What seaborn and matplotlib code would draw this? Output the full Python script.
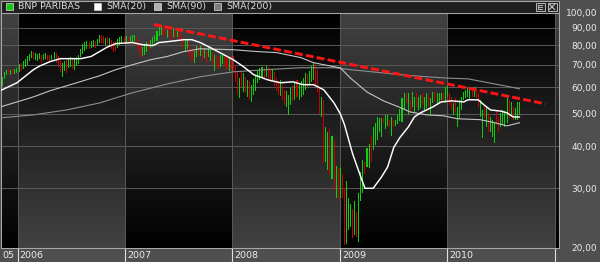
import numpy as np
import pandas as pd
import matplotlib
matplotlib.use('Agg')
import matplotlib.pyplot as plt
import matplotlib.dates as mdates
import matplotlib.transforms as mtransforms
from matplotlib.colors import LinearSegmentedColormap
from matplotlib.patches import Rectangle
from matplotlib.lines import Line2D
from matplotlib.ticker import FixedLocator, NullLocator
import seaborn as sns

plt.rcParams['font.family'] = ['DejaVu Sans']

# ---------------- DATA ----------------
first_week = '2005-11-11'          # weekly bars (Fridays)
view_start = '2005-11-04'
view_end = '2011-01-14'

highs = [
    64.5, 66.5, 67.5, 67.8, 67.5, 68.0, 67.8, 68.5, 70.5, 71.0,
    71.5, 72.5, 74.0, 75.5, 77.0, 76.5, 76.0, 75.5, 76.0, 75.0,
    75.5, 76.0, 75.0, 74.5, 75.0, 76.5, 76.0, 74.0, 72.0, 71.0,
    71.5, 72.0, 73.0, 73.5, 73.0, 72.5, 73.5, 75.0, 78.0, 80.5,
    81.5, 82.0, 81.5, 82.5, 83.0, 82.5, 83.5, 86.0, 85.5, 85.0,
    84.0, 84.5, 84.0, 83.0, 81.5, 82.0, 83.5, 84.5, 85.0, 84.5,
    85.0, 84.5, 85.0, 85.5, 86.0, 84.5, 82.0, 80.0, 79.0, 80.5,
    81.5, 82.0, 83.0, 84.5, 86.0, 88.0, 90.5, 92.0, 91.5, 90.5,
    89.0, 90.0, 88.5, 89.5, 88.5, 89.0, 88.0, 87.0, 84.0, 82.5,
    83.0, 81.5, 78.0, 77.0, 79.5, 80.0, 79.5, 78.0, 78.5, 77.0,
    79.0, 77.5, 76.0, 75.0, 74.0, 73.5, 74.5, 76.0, 75.5, 74.0,
    73.0, 74.0, 74.0, 70.0, 66.5, 64.0, 67.0, 66.0, 64.5, 63.0,
    62.5, 61.0, 63.5, 65.0, 67.0, 68.5, 69.0, 68.5, 69.5, 69.0,
    67.5, 68.0, 66.5, 64.0, 62.5, 63.0, 61.0, 59.0, 58.5, 57.0,
    59.5, 60.5, 62.0, 63.0, 61.5, 62.5, 64.0, 66.0, 65.5, 67.0,
    69.5, 71.4, 70.5, 68.0, 60.0, 56.0, 55.0, 45.5, 44.0, 45.0,
    43.0, 41.8, 35.0, 34.5, 34.5, 33.0, 30.0, 31.5, 28.0, 27.0,
    26.0, 27.5, 25.5, 29.0, 33.5, 36.5, 36.0, 39.5, 40.5, 43.0,
    45.5, 47.0, 49.0, 48.5, 48.5, 48.5, 49.5, 49.5, 48.0, 48.8,
    47.8, 48.0, 49.5, 51.5, 55.6, 57.5, 57.5, 57.5, 55.0, 58.2,
    56.2, 57.5, 56.2, 56.9, 57.5, 56.2, 57.5, 56.9, 55.6, 58.2,
    58.2, 57.5, 57.5, 57.5, 57.5, 60.2, 60.9, 57.5, 56.2, 53.7,
    55.6, 52.5, 55.0, 56.2, 58.2, 58.9, 59.6, 58.9, 59.6, 60.2,
    58.9, 57.5, 55.0, 51.3, 52.5, 52.5, 50.2, 49.0, 47.9, 46.8,
    51.3, 49.0, 50.2, 51.3, 50.8, 56.2, 55.0, 54.3, 52.5, 51.9,
    54.3, 54.3,
]
lows = [
    60.5, 63.5, 65.0, 65.5, 65.3, 65.8, 65.5, 66.0, 66.5, 67.0,
    68.0, 69.0, 70.0, 71.5, 73.0, 72.5, 72.0, 71.5, 72.5, 71.0,
    72.0, 72.5, 72.0, 71.5, 72.0, 72.5, 71.0, 69.0, 66.5, 64.5,
    67.0, 66.0, 68.5, 69.0, 68.0, 67.5, 69.5, 70.5, 73.5, 75.5,
    77.0, 78.0, 78.0, 78.5, 79.0, 78.5, 79.5, 81.0, 81.0, 80.5,
    80.0, 80.5, 79.5, 78.0, 76.5, 77.0, 78.5, 80.0, 80.5, 80.5,
    81.0, 80.5, 81.0, 81.5, 82.0, 79.0, 76.0, 73.0, 74.0, 75.0,
    76.5, 77.0, 78.5, 80.0, 81.5, 82.5, 85.0, 86.0, 85.5, 85.0,
    84.0, 85.0, 83.0, 84.5, 83.5, 84.5, 83.0, 81.0, 78.0, 76.5,
    78.0, 74.0, 71.5, 71.0, 73.5, 74.0, 74.0, 72.0, 73.0, 71.0,
    73.5, 71.5, 70.0, 67.0, 68.5, 68.0, 69.0, 70.5, 69.5, 68.0,
    67.0, 68.0, 67.0, 62.0, 57.0, 55.7, 60.0, 58.0, 57.5, 56.0,
    55.0, 54.2, 57.0, 58.5, 61.5, 63.0, 64.0, 63.5, 64.5, 63.0,
    62.0, 62.5, 60.5, 58.5, 57.0, 56.5, 55.0, 53.0, 52.5, 49.6,
    53.0, 54.5, 55.0, 56.0, 55.0, 56.0, 57.0, 59.0, 60.0, 60.5,
    62.0, 63.0, 61.0, 58.0, 50.0, 48.8, 35.7, 36.0, 34.0, 33.0,
    32.0, 29.6, 28.0, 27.6, 28.0, 28.0, 20.3, 20.5, 22.5, 23.0,
    21.4, 21.8, 21.5, 20.8, 27.5, 29.0, 33.0, 34.6, 34.5, 36.0,
    39.0, 40.3, 41.8, 44.0, 42.5, 47.0, 45.0, 46.0, 45.5, 43.0,
    45.5, 46.0, 46.5, 47.5, 47.4, 51.3, 53.7, 49.6, 50.2, 52.5,
    50.2, 52.5, 51.3, 51.9, 53.1, 51.3, 51.9, 52.5, 49.6, 53.7,
    54.3, 53.1, 53.7, 55.0, 54.3, 53.7, 56.2, 53.1, 51.3, 49.6,
    50.2, 45.8, 48.5, 51.3, 55.0, 55.6, 56.2, 55.0, 56.2, 56.2,
    55.6, 52.5, 49.0, 42.2, 48.5, 45.8, 44.2, 44.2, 42.7, 40.8,
    46.3, 44.2, 45.8, 46.3, 45.8, 46.8, 48.5, 49.6, 47.9, 47.9,
    47.9, 49.6,
]
# u = week closed up (green), d = week closed down (red)
direction = (
    "uuududuuud" "uuuuuduuud" "uudduudddu" "uduuduuuuu" "uuduuduudd"
    "ududdduuud" "uduuuddduu" "uduuuuuudd" "uddududddu" "udduududud"
    "uududduudd" "uddddududu" "duuuuuudud" "dudddudduu" "ududuuuudu"
    "uuddduduud" "udududduuu" "duduuuduud" "uuuuuduudu" "duuuuududu"
    "uduuduuduu" "duuuduuddu" "duuuuuuudu" "dduududuuu" "dduuuududu"
    "uu"
)

sma20_week = [-1, 7, 15, 18, 23, 28, 38, 43, 51, 55, 63, 68, 73, 76, 81, 88, 92, 96,
              101, 112, 117, 122, 129, 135, 141, 146, 151, 156, 161, 164, 166, 170,
              174, 176, 180, 184, 187, 190, 193, 197, 200, 203, 209, 213, 218, 224,
              226, 231, 234, 237, 242, 245, 248, 251]
sma20_value = [58.6, 61.8, 67.6, 69.3, 71.4, 72.9, 72.9, 74.0, 79.0, 80.8, 81.4, 80.2,
               79.7, 81.4, 82.0, 83.0, 83.0, 81.4, 78.6, 72.4, 69.0, 65.3, 63.0, 61.8,
               62.2, 61.0, 61.0, 58.9, 53.8, 50.0, 46.5, 38.0, 32.4, 30.0, 30.0, 32.4,
               34.7, 39.7, 42.5, 45.6, 48.9, 50.3, 52.4, 54.2, 54.6, 54.2, 55.0, 55.0,
               53.0, 51.3, 50.9, 50.3, 48.9, 48.9]

sma90_week = [-1, 7, 15, 23, 31, 39, 47, 55, 63, 72, 80, 88, 96, 112, 124, 133, 145,
              151, 161, 164, 169, 177, 185, 193, 198, 206, 214, 221, 232, 239, 245, 251]
sma90_value = [52.4, 54.2, 56.1, 58.5, 60.5, 62.6, 64.8, 67.6, 69.9, 72.4, 74.0, 76.5,
               78.0, 77.5, 76.5, 76.0, 73.4, 70.9, 69.0, 68.5, 63.8, 58.0, 54.6, 52.2,
               50.6, 49.6, 49.3, 48.3, 48.0, 47.0, 46.0, 47.0]

sma200_week = [-1, 15, 31, 47, 63, 80, 96, 112, 128, 145, 161, 169, 185, 193, 206,
               216, 226, 239, 247, 251]
sma200_value = [48.6, 49.6, 51.3, 53.8, 57.7, 61.3, 64.4, 66.6, 67.6, 68.5, 68.5, 67.6,
                66.1, 65.3, 64.4, 63.8, 63.5, 61.3, 60.0, 59.3]

trend_dates = ['2007-04-09', '2010-11-30']
trend_values = [92.1, 53.5]

y_ticks = [20, 30, 40, 50, 60, 70, 80, 90, 100]
y_labels = ['20,00', '30,00', '40,00', '50,00', '60,00', '70,00', '80,00', '90,00', '100,00']
year_starts = ['2006-01-01', '2007-01-01', '2008-01-01', '2009-01-01', '2010-01-01', '2011-01-01']
year_labels = ['05', '2006', '2007', '2008', '2009', '2010']
legend_labels = ['BNP PARIBAS', 'SMA(20)', 'SMA(90)', 'SMA(200)']

# ---------------- STYLE / LAYOUT ----------------
W, H = 600, 262
GREEN, RED = '#12cc12', '#cc0000'
C20, C90, C200 = '#ffffff', '#c4c4c4', '#8e8e8e'
FIGBG = '#4f4f4f'
TXT = '#ececec'

fig = plt.figure(figsize=(W / 100, H / 100), dpi=100, facecolor=FIGBG)


def rect_px(l, t, r, b):
    return [l / W, 1 - b / H, (r - l) / W, (b - t) / H]


PL, PT, PR, PB = 0.5, 12.5, 558.5, 247.5
bg = fig.add_axes(rect_px(PL, PT, PR, PB), zorder=0)
ax = fig.add_axes(rect_px(PL, PT, PR, PB), zorder=1)


def dnum(d):
    return mdates.date2num(pd.Timestamp(d))


start_num = dnum(first_week)


def week_x(idx):
    return start_num + np.asarray(idx, dtype=float) * 7.0


bar_x = week_x(np.arange(len(highs)))
vx0, vx1 = dnum(view_start), dnum(view_end)
ys = [dnum(d) for d in year_starts]

# background gradient bands alternating per year
cmap = LinearSegmentedColormap.from_list('band', ['#000000', '#424242'])
grad = np.linspace(0, 1, 256).reshape(-1, 1)
bounds = [vx0] + ys + [vx1]
for k in range(len(bounds) - 1):
    g = grad if k % 2 == 0 else grad[::-1]
    bg.imshow(g, extent=[bounds[k], bounds[k + 1], 0, 1], origin='lower',
              aspect='auto', cmap=cmap, vmin=0, vmax=1, interpolation='bilinear')
bg.set_xlim(vx0, vx1)
bg.set_ylim(0, 1)
bg.axis('off')

# main axes
ax.set_facecolor('none')
ax.set_yscale('log')
hi = np.array(highs)
lo = np.array(lows)
cols = [GREEN if f == 'u' else RED for f in direction]
ax.bar(bar_x, hi - lo, bottom=lo, width=3.5, color=cols, linewidth=0,
       antialiased=False, zorder=3)

for wk, val, c, lw in [(sma200_week, sma200_value, C200, 0.8),
                       (sma90_week, sma90_value, C90, 0.8),
                       (sma20_week, sma20_value, C20, 1.05)]:
    sns.lineplot(x=week_x(wk), y=val, ax=ax, color=c, lw=lw, zorder=4, legend=False)

ax.plot([dnum(d) for d in trend_dates], trend_values, color='#ff1414', lw=2.1,
        dashes=(2.7, 1.1), dash_capstyle='butt', zorder=5)

ax.set_xlim(vx0, vx1)
ax.set_ylim(20, 100)
ax.set_xlabel('')
ax.set_ylabel('')

for xv in ys:
    ax.axvline(xv, color='#585858', lw=0.7, zorder=1, antialiased=False)

ax.yaxis.set_major_locator(FixedLocator(y_ticks))
ax.yaxis.set_minor_locator(NullLocator())
ax.set_yticklabels(y_labels)
ax.yaxis.tick_right()
ax.tick_params(axis='y', which='both', length=0, pad=27.7, labelsize=6.5,
               labelcolor=TXT, right=False, left=False)
for t in ax.get_yticklabels():
    t.set_horizontalalignment('right')
ax.set_axisbelow(True)
ax.grid(True, axis='y', color='#585858', lw=0.7, antialiased=False)
ax.grid(False, axis='x')

ax.set_xticks(ys)
ax.xaxis.set_minor_locator(NullLocator())
ax.tick_params(axis='x', which='major', length=10.2, width=0.8, color='#e0e0e0',
               direction='out', labelbottom=False, bottom=True)

for s in ax.spines.values():
    s.set_color('#a8a8a8')
    s.set_linewidth(0.75)

tr = mtransforms.offset_copy(ax.get_xaxis_transform(), fig=fig, x=2, y=0, units='dots')
label_pos = [vx0 - 0.3] + ys[:-1]
for xp, lab in zip(label_pos, year_labels):
    ax.text(xp, -0.034, lab, transform=tr, ha='left', va='center', fontsize=6.8,
            color=TXT, clip_on=False)

# overlay in pixel coordinates for title bar / legend
ov = fig.add_axes([0, 0, 1, 1], zorder=10)
ov.set_xlim(0, W)
ov.set_ylim(H, 0)
ov.axis('off')
ov.patch.set_visible(False)
ov.add_patch(Rectangle((0.5, 0.5), 558, 12, fc='#1f1f1f', ec='#a8a8a8', lw=0.75))

leg_cols = [GREEN, C20, '#b0b0b0', '#7c7c7c']
sq_x = [6, 94, 154, 214]
for lab, c, sx in zip(legend_labels, leg_cols, sq_x):
    ov.add_patch(Rectangle((sx, 3), 6.5, 6.5, fc=c, ec='#c8c8c8', lw=0.6))
    ov.text(sx + 12.5, 6.6, lab, ha='left', va='center', fontsize=6.8, color='#d8d8d8')

# window icons
for ix in [535.5, 547.5]:
    ov.add_patch(Rectangle((ix, 2.5), 9, 8.5, fc='#2a2a2a', ec='#b8b8b8', lw=0.7))
for yy in [4.8, 6.8, 8.8]:
    ov.add_line(Line2D([538, 542], [yy, yy], color='#c8c8c8', lw=0.6))
ov.add_line(Line2D([538, 538], [4.8, 8.8], color='#c8c8c8', lw=0.6))
ov.add_line(Line2D([549.5, 554.5], [4.3, 9.3], color='#c8c8c8', lw=0.8))
ov.add_line(Line2D([549.5, 554.5], [9.3, 4.3], color='#c8c8c8', lw=0.8))

fig.savefig('out.png', dpi=100, facecolor=fig.get_facecolor())
